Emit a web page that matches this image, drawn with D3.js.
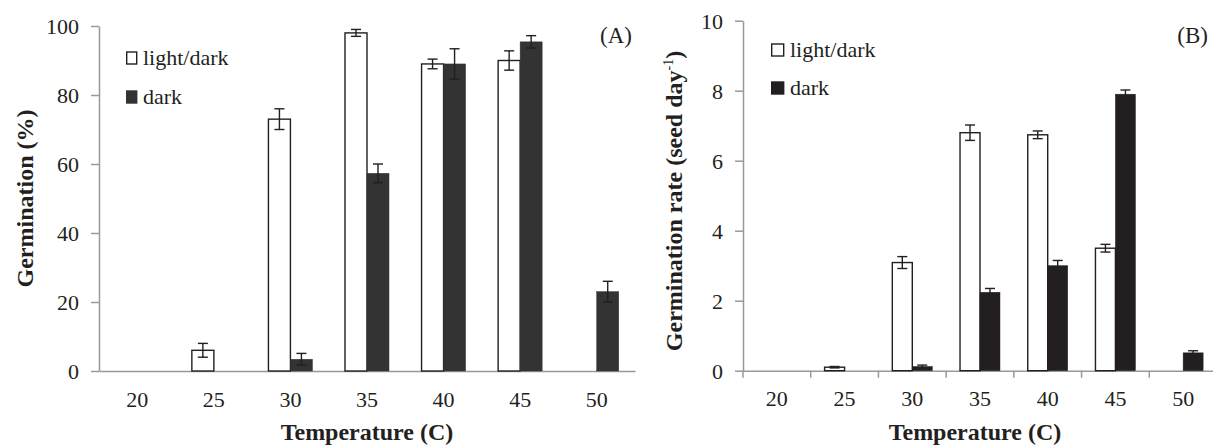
<!DOCTYPE html>
<html>
<head>
<meta charset="utf-8">
<script src="https://cdn.jsdelivr.net/npm/d3@7"></script>
<style>
  html, body { margin: 0; padding: 0; background: #fff; }
  svg { display: block; }
  svg text { font-family: "Liberation Serif", Tinos, "Times New Roman", Times, "DejaVu Serif", "Noto Serif", serif !important; fill: #231f20; }
</style>
</head>
<body>
<svg id="chart" width="1213" height="446"></svg>
<script>
// Temperatures tested
const temps = ["20", "25", "30", "35", "40", "45", "50"];
const seriesNames = ["light/dark", "dark"];

// (A) final germination, %
const germLight    = [0, 6, 73, 98, 89, 90, 0];
const germLightErr = [0, 2, 3, 1, 1.4, 2.8, 0];
const germDark     = [0, 0, 3.4, 57.3, 89, 95.4, 23];
const germDarkErr  = [0, 0, 1.7, 2.7, 4.4, 1.8, 3];

// (B) germination rate, seed day^-1
const rateLight    = [0, 0.1, 3.09, 6.8, 6.74, 3.5, 0];
const rateLightErr = [0, 0.02, 0.17, 0.22, 0.11, 0.11, 0];
const rateDark     = [0, 0, 0.12, 2.24, 3.0, 7.9, 0.51];
const rateDarkErr  = [0, 0, 0.04, 0.11, 0.15, 0.12, 0.06];

const germTicks = [0, 20, 40, 60, 80, 100];
const rateTicks = [0, 2, 4, 6, 8, 10];

const svg = d3.select("#chart");
const AXIS = "#999999";
const INK = "#231f20";

function panel(cfg) {
  const g = svg.append("g");
  const x = d3.scaleBand().domain(temps).range(cfg.xRange).padding(0);
  const x1 = d3.scaleBand().domain(seriesNames).range([0, x.bandwidth()])
    .paddingInner(0).paddingOuter(cfg.outer);
  const y = d3.scaleLinear().domain(cfg.yDomain).range(cfg.yRange);

  // y axis
  const ya = g.append("g")
    .attr("transform", `translate(${cfg.xRange[0]},0)`)
    .call(d3.axisLeft(y).tickValues(cfg.yTicks).tickSize(8).tickSizeOuter(0).tickPadding(12));
  ya.attr("font-family", null);
  ya.select(".domain").attr("stroke", AXIS).attr("stroke-width", 1.5);
  ya.selectAll(".tick line").attr("stroke", AXIS).attr("stroke-width", 1.5);
  ya.selectAll(".tick text")
    .attr("font-size", 22).attr("fill", INK).attr("dy", "0.34em");

  // x axis (labels at category centres)
  const xa = g.append("g")
    .attr("transform", `translate(0,${cfg.yRange[0]})`)
    .call(d3.axisBottom(x).tickSize(0).tickSizeOuter(0).tickPadding(20));
  xa.attr("font-family", null);
  xa.select(".domain").attr("stroke", AXIS).attr("stroke-width", 1.5);
  xa.selectAll(".tick text").attr("font-size", 22).attr("fill", INK);

  // boundary tick marks between categories
  if (cfg.boundaryTicks) {
    const bounds = temps.map(d => x(d)).concat([x.range()[1]]);
    g.append("g").selectAll("line").data(bounds).join("line")
      .attr("x1", d => d).attr("x2", d => d)
      .attr("y1", cfg.yRange[0]).attr("y2", cfg.yRange[0] + 7)
      .attr("stroke", AXIS).attr("stroke-width", 1.5);
  }

  const rows = [];
  temps.forEach((t, i) => {
    rows.push({ t, s: "light/dark", v: cfg.light[i], e: cfg.lightErr[i] });
    rows.push({ t, s: "dark", v: cfg.dark[i], e: cfg.darkErr[i] });
  });
  const shown = rows.filter(r => r.v > 0);

  // bars
  g.append("g").selectAll("rect").data(shown).join("rect")
    .attr("x", d => x(d.t) + x1(d.s))
    .attr("y", d => y(d.v))
    .attr("width", x1.bandwidth())
    .attr("height", d => y(0) - y(d.v))
    .attr("fill", d => d.s === "dark" ? cfg.darkFill : "#ffffff")
    .attr("stroke", d => d.s === "dark" ? cfg.darkFill : INK)
    .attr("stroke-width", d => d.s === "dark" ? 0.5 : 1.4);

  // error bars
  const eb = g.append("g").attr("stroke", INK).attr("stroke-width", 1.4);
  shown.filter(d => d.e > 0).forEach(d => {
    const cx = x(d.t) + x1(d.s) + x1.bandwidth() / 2;
    const y0 = y(d.v - d.e), y1 = y(d.v + d.e);
    eb.append("line").attr("x1", cx).attr("x2", cx).attr("y1", y0).attr("y2", y1);
    eb.append("line").attr("x1", cx - 5).attr("x2", cx + 5).attr("y1", y0).attr("y2", y0);
    eb.append("line").attr("x1", cx - 5).attr("x2", cx + 5).attr("y1", y1).attr("y2", y1);
  });

  // legend
  const lg = g.append("g").attr("transform", `translate(${cfg.legend[0]},${cfg.legend[1]})`);
  seriesNames.forEach((s, i) => {
    const row = lg.append("g").attr("transform", `translate(0,${i * cfg.legendStep})`);
    row.append("rect").attr("x", 0.7).attr("y", -13).attr("width", cfg.swatch).attr("height", 12)
      .attr("fill", s === "dark" ? cfg.darkFill : "#fff")
      .attr("stroke", s === "dark" ? cfg.darkFill : INK).attr("stroke-width", 1.4);
    row.append("text").attr("x", cfg.swatch + 7).attr("y", 0)
      .attr("font-size", 22).text(s);
  });

  // panel letter
  g.append("text").attr("x", cfg.letter[0]).attr("y", cfg.letter[1])
    .attr("text-anchor", "end").attr("font-size", 23).text(cfg.letterText);

  // axis titles
  g.append("text").attr("x", cfg.xTitle[0]).attr("y", cfg.xTitle[1])
    .attr("text-anchor", "middle").attr("font-size", 24).attr("font-weight", "bold")
    .text("Temperature (C)");

  const yt = g.append("text")
    .attr("transform", `translate(${cfg.yTitle[0]},${cfg.yTitle[1]}) rotate(-90)`)
    .attr("text-anchor", "middle").attr("font-size", 24).attr("font-weight", "bold");
  yt.append("tspan").text(cfg.yTitleText);
  if (cfg.yTitleSup) {
    yt.append("tspan").attr("font-size", 14).attr("font-weight", "normal")
      .attr("dy", "-9").text(cfg.yTitleSup);
    yt.append("tspan").attr("dy", "9").text(")");
  }
}

panel({
  xRange: [99, 635], yRange: [371, 26], yDomain: [0, 100], yTicks: germTicks,
  outer: 0.74, light: germLight, lightErr: germLightErr, dark: germDark, darkErr: germDarkErr,
  darkFill: "#333333", boundaryTicks: false,
  legend: [126, 65], legendStep: 39, swatch: 10,
  letter: [632, 43], letterText: "(A)",
  xTitle: [367, 440], yTitle: [33, 198.5], yTitleText: "Germination (%)"
});

panel({
  xRange: [743, 1217], yRange: [370.7, 20.7], yDomain: [0, 10], yTicks: rateTicks,
  outer: 0.695, light: rateLight, lightErr: rateLightErr, dark: rateDark, darkErr: rateDarkErr,
  darkFill: "#231f20", boundaryTicks: true,
  legend: [771, 57], legendStep: 38, swatch: 12,
  letter: [1208, 43], letterText: "(B)",
  xTitle: [975, 440], yTitle: [682, 201], yTitleText: "Germination rate (seed day", yTitleSup: "-1"
});
</script>
</body>
</html>
